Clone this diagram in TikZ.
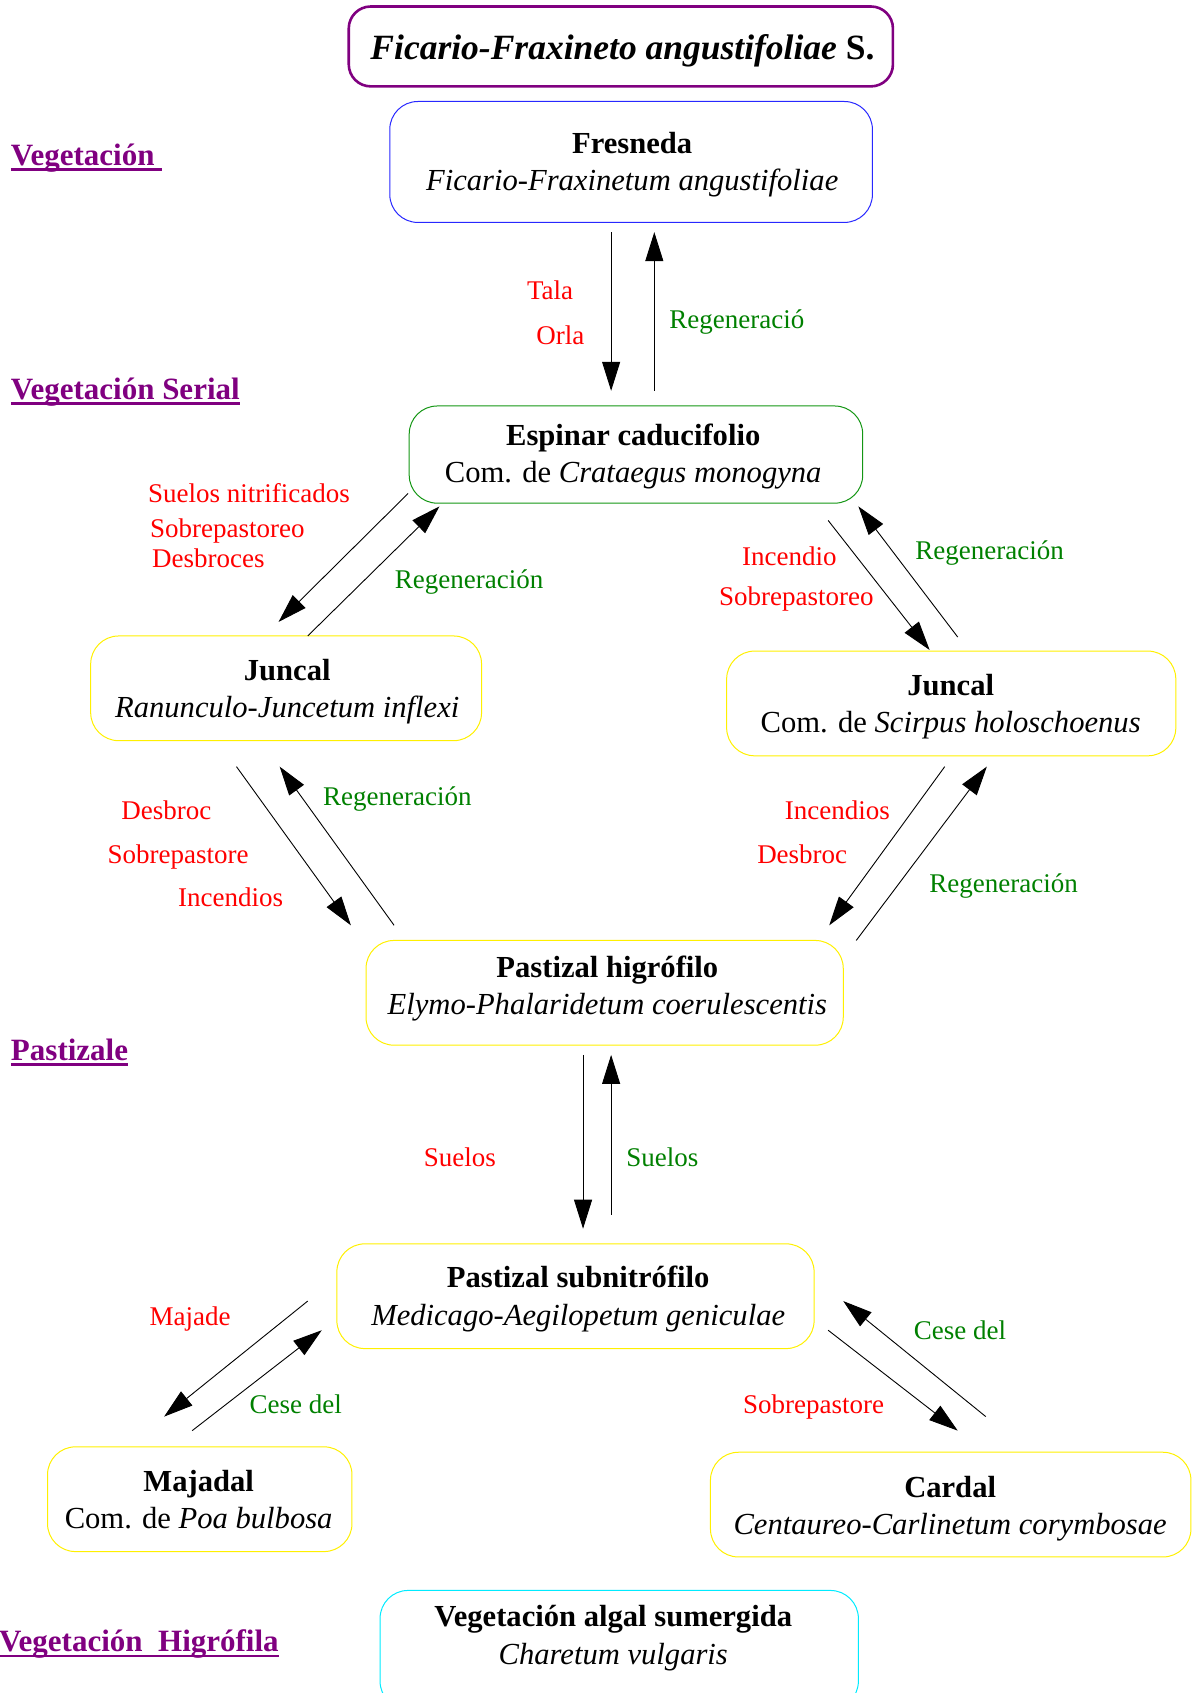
\documentclass[tikz,border=0pt]{standalone}
\usepackage{fontspec}
\setmainfont{Liberation Serif}
\usetikzlibrary{arrows.meta}

\definecolor{causered}{RGB}{255,0,0}
\definecolor{regengreen}{RGB}{0,128,0}
\definecolor{secpurple}{RGB}{128,0,128}
\definecolor{boxblue}{RGB}{40,40,255}
\definecolor{boxgreen}{RGB}{20,150,20}
\definecolor{boxyellow}{RGB}{255,240,0}
\definecolor{boxcyan}{RGB}{0,235,255}

\begin{document}
\begin{tikzpicture}[x=1.0796pt,y=-1.0796pt,
  commbox/.style={draw, rounded corners=28pt, line width=1pt, inner sep=0pt},
  commtext/.style={align=center, inner sep=0pt, font=\fontsize{30.6}{37.5}\selectfont},
  cause/.style={text=causered, font=\fontsize{27}{30}\selectfont, anchor=base, inner sep=0pt},
  regen/.style={cause, text=regengreen},
  flow/.style={-{Triangle[length=29pt,width=18pt]}, line width=0.9pt},
  section/.style={text=secpurple, font=\fontsize{31}{36}\selectfont\bfseries,
    anchor=base west, inner sep=0pt},
  uline/.style={secpurple, line width=2.6pt},
]
\useasboundingbox (0,0) rectangle (1105,1568);

% ---------- title ----------
\node[draw=secpurple, line width=2.6pt, rounded corners=22pt, inner sep=0pt,
  minimum width={504*1.0796pt}, minimum height={74*1.0796pt}] (title) at (575,43) {};
\node[inner sep=0pt, font=\fontsize{35.5}{40}\selectfont] (titletxt) at (576.5,47)
  {\textbf{\textit{Ficario-Fraxineto angustifoliae} S.}};

% ---------- section headings ----------
\node[section] (secveg) at (10,153) {Vegetación\hspace*{0.25em}};
\node[section] (secser) at (10,370) {Vegetación Serial};
\node[section] (secpas) at (10,982) {Pastizale};
\node[section] (sechig) at (-1,1530) {Vegetación\hspace*{0.5em}Higrófila};
\foreach \s in {secveg,secser,secpas,sechig}
  \draw[uline] ([yshift=-4pt]\s.base west) -- ([yshift=-4pt]\s.base east);

% ---------- communities: frames ----------
\node[commbox, draw=boxblue, minimum width={447*1.0796pt}, minimum height={112*1.0796pt}]
  (fres) at (584.5,150) {};
\node[commbox, draw=boxgreen, minimum width={420*1.0796pt}, minimum height={90*1.0796pt}]
  (espi) at (589,421) {};
\node[commbox, draw=boxyellow, minimum width={362*1.0796pt}, minimum height={97*1.0796pt}]
  (juncl) at (265,637.5) {};
\node[commbox, draw=boxyellow, minimum width={416*1.0796pt}, minimum height={97*1.0796pt}]
  (juncr) at (881,651.5) {};
\node[commbox, draw=boxyellow, minimum width={442*1.0796pt}, minimum height={97*1.0796pt}]
  (pash) at (560,919.5) {};
\node[commbox, draw=boxyellow, minimum width={442*1.0796pt}, minimum height={97*1.0796pt}]
  (pass) at (533,1200.5) {};
\node[commbox, draw=boxyellow, minimum width={282*1.0796pt}, minimum height={97*1.0796pt}]
  (majad) at (185,1388.5) {};
\node[commbox, draw=boxyellow, minimum width={445*1.0796pt}, minimum height={97*1.0796pt}]
  (cardal) at (880.5,1393.5) {};
\node[commbox, draw=boxcyan, minimum width={443*1.0796pt}, minimum height={110*1.0796pt}]
  (algal) at (573.5,1528) {};

% ---------- communities: names ----------
\node[commtext] (frestxt) at (585.5,152.5)
  {\textbf{Fresneda}\\\textit{Ficario-Fraxinetum angustifoliae}};
\node[commtext] (espitxt) at (586.5,423)
  {\textbf{Espinar caducifolio}\\Com. de \textit{Crataegus monogyna}};
\node[commtext] (juncltxt) at (266,640.5)
  {\textbf{Juncal}\\\textit{Ranunculo-Juncetum inflexi}};
\node[commtext] (juncrtxt) at (880.5,654.5)
  {\textbf{Juncal}\\Com. de \textit{Scirpus holoschoenus}};
\node[commtext] (pashtxt) at (562.5,915.5)
  {\textbf{Pastizal higrófilo}\\\textit{Elymo-Phalaridetum coerulescentis}};
\node[commtext] (passtxt) at (535.5,1203)
  {\textbf{Pastizal subnitrófilo}\\\textit{Medicago-Aegilopetum geniculae}};
\node[commtext] (majadtxt) at (184,1389)
  {\textbf{Majadal}\\Com. de \textit{Poa bulbosa}};
\node[commtext] (cardaltxt) at (880,1397.5)
  {\textbf{Cardal}\\\textit{Centaureo-Carlinetum corymbosae}};
\node[commtext] (algaltxt) at (568,1517)
  {\textbf{Vegetación algal sumergida}\\\textit{Charetum vulgaris}};

% ---------- connector end points ----------
\coordinate (f1) at (566,215);   \coordinate (e1) at (566,362);
\coordinate (e2) at (606,362);   \coordinate (f2) at (606,215);
\coordinate (e3) at (378,457);   \coordinate (jl3) at (258,576);
\coordinate (jl4) at (285,589);  \coordinate (e4) at (407,469);
\coordinate (e5) at (767,482);   \coordinate (jr5) at (861,602);
\coordinate (jr6) at (887,590);  \coordinate (e6) at (795,469);
\coordinate (jl7) at (219,710);  \coordinate (ph7) at (325,857);
\coordinate (ph8) at (365,857);  \coordinate (jl8) at (259,710);
\coordinate (jr9) at (875,710);  \coordinate (ph9) at (768,857);
\coordinate (ph10) at (793,871); \coordinate (jr10) at (914,710);
\coordinate (ph11) at (540,977); \coordinate (ps11) at (540,1138);
\coordinate (ps12) at (566,1125);\coordinate (ph12) at (566,977);
\coordinate (ps13) at (285,1205);\coordinate (mj13) at (152,1312);
\coordinate (mj14) at (178,1325);\coordinate (ps14) at (298,1232);
\coordinate (ps15) at (767,1232);\coordinate (cd15) at (887,1325);
\coordinate (cd16) at (913,1312);\coordinate (ps16) at (781,1205);

% ---------- connectors ----------
\draw[flow] (f1) -- (e1);
\draw[flow] (e2) -- (f2);
\draw[flow] (e3) -- (jl3);
\draw[flow] (jl4) -- (e4);
\draw[flow] (e5) -- (jr5);
\draw[flow] (jr6) -- (e6);
\draw[flow] (jl7) -- (ph7);
\draw[flow] (ph8) -- (jl8);
\draw[flow] (jr9) -- (ph9);
\draw[flow] (ph10) -- (jr10);
\draw[flow] (ph11) -- (ps11);
\draw[flow] (ps12) -- (ph12);
\draw[flow] (ps13) -- (mj13);
\draw[flow] (mj14) -- (ps14);
\draw[flow] (ps15) -- (cd15);
\draw[flow] (cd16) -- (ps16);

% ---------- transition labels ----------
\node[cause] (l1) at (509.5,277) {Tala};
\node[cause] (l2) at (519,319) {Orla};
\node[regen] (l3) at (682.5,304) {Regeneració};

\node[cause] (l4) at (230.5,465) {Suelos nitrificados};
\node[cause] (l5) at (210.5,498) {Sobrepastoreo};
\node[cause] (l6) at (193,526) {Desbroces};
\node[regen] (l7) at (434.5,545) {Regeneración};

\node[cause] (l8) at (731,524) {Incendio};
\node[cause] (l9) at (737.5,561) {Sobrepastoreo};
\node[regen] (l10) at (916.5,518) {Regeneración};

\node[cause] (l11) at (154,759) {Desbroc};
\node[cause] (l12) at (165,800) {Sobrepastore};
\node[cause] (l13) at (213.5,840) {Incendios};
\node[regen] (l14) at (368,746) {Regeneración};

\node[cause] (l15) at (775.5,759) {Incendios};
\node[cause] (l16) at (743,800) {Desbroc};
\node[regen] (l17) at (929.5,827) {Regeneración};

\node[cause] (l18) at (426,1080) {Suelos};
\node[regen] (l19) at (613.5,1080) {Suelos};

\node[cause] (l20) at (176,1228) {Majade};
\node[regen] (l21) at (274,1309) {Cese del};
\node[regen] (l22) at (889,1241) {Cese del};
\node[cause] (l23) at (753.5,1309) {Sobrepastore};
\end{tikzpicture}
\end{document}
